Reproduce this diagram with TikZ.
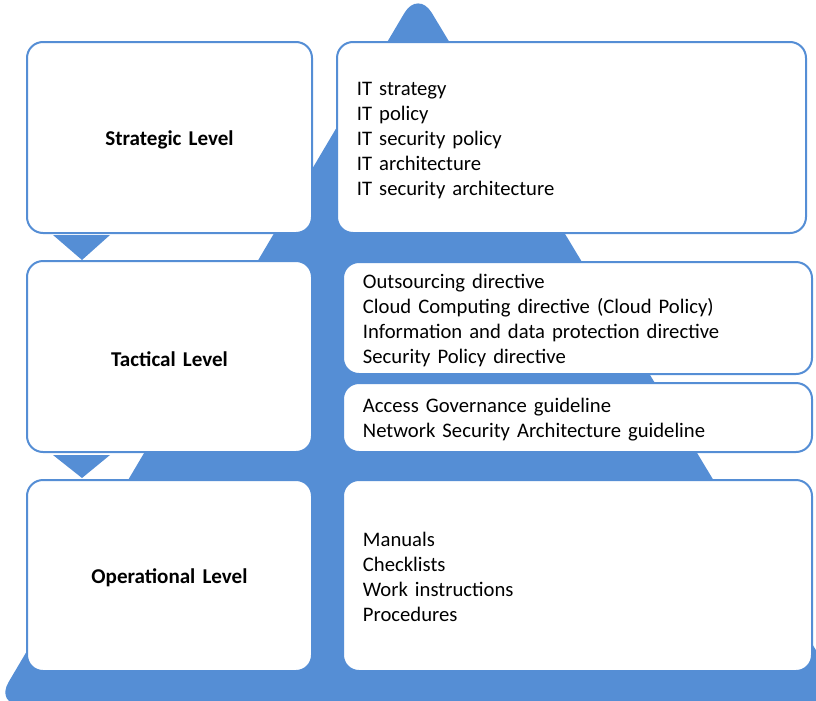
\documentclass[tikz,border=0pt]{standalone}
\usepackage{fontspec}
\setmainfont{Carlito}[WordSpace = 1.5]
\usetikzlibrary{positioning}
\definecolor{pyr}{RGB}{85, 142, 213}
\definecolor{edge}{RGB}{85, 142, 213}

\begin{document}
\begin{tikzpicture}[x = 0.75pt, y = -0.75pt,
    box/.style = {draw = edge, line width = 1.5pt, fill = white, rounded corners = 12pt,
        minimum width = #1},
    level/.style = {box = 213.75pt, minimum height = 143.25pt},
    label/.style = {inner sep = 0pt, font = \bfseries\fontsize{15.8}{18}\selectfont},
    items/.style = {inner sep = 0pt, align = left, anchor = west,
        font = \fontsize{15.5}{18.75}\selectfont}]
    \useasboundingbox (0,0) rectangle (816,700);
    \clip (0,0) rectangle (816,700);

    % pyramid behind everything
    \fill[pyr, rounded corners = 20pt] (418,-10) -- (849,705) -- (-5,705) -- cycle;
    \fill[pyr] (53,235) -- (110,235) -- (82,260) -- cycle;
    \fill[pyr] (53,455) -- (110,455) -- (82,478) -- cycle;

    % levels
    \node[level] (strat) at (169.5,137.5) {};
    \node[level] (tact) at (169.5,356.5) {};
    \node[level] (oper) at (169.5,575.5) {};
    \node[label, yshift = -2pt] (stratl) at (strat) {Strategic Level};
    \node[label, yshift = -2pt] (tactl) at (tact) {Tactical Level};
    \node[label, yshift = -2pt] (operl) at (oper) {Operational Level};

    % documents
    \node[box = 351.75pt, minimum height = 143.25pt] (a) at (571.5,137.5) {};
    \node[box = 351.75pt, minimum height = 84pt] (b) at (577.5,318) {};
    \node[box = 351.75pt, minimum height = 51.75pt] (c) at (577.5,417.5) {};
    \node[box = 351.75pt, minimum height = 143.25pt] (d) at (577.5,575.5) {};

    \node[items, right = 15.5pt of a.west, yshift = -2.25pt] (at)
    {
        IT strategy \\
        IT policy \\
        IT security policy \\
        IT architecture \\
        IT security architecture
    };
    \node[items, right = 15.5pt of b.west, yshift = -1.5pt] (bt)
    {
        Outsourcing directive \\
        Cloud Computing directive (Cloud Policy) \\
        Information and data protection directive \\
        Security Policy directive
    };
    \node[items, right = 15.5pt of c.west, yshift = -1.5pt] (ct)
    {
        Access Governance guideline \\
        Network Security Architecture guideline
    };
    \node[items, right = 15.5pt of d.west, yshift = -1pt] (dt)
    {
        Manuals \\
        Checklists \\
        Work instructions \\
        Procedures
    };
\end{tikzpicture}
\end{document}
